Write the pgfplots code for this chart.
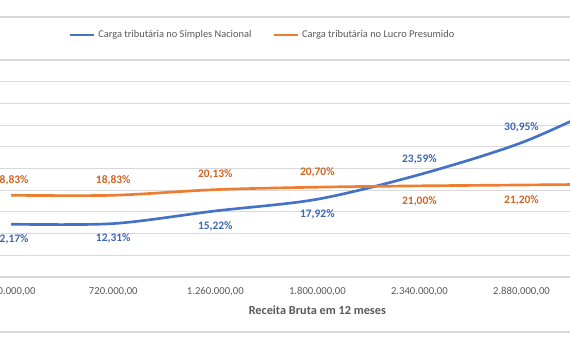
\documentclass[border=0pt]{standalone}
\usepackage{pgfplots}
\pgfplotsset{compat=1.18}
\usepackage{fontspec}
\setmainfont{Carlito}
\definecolor{sBlue}{HTML}{4472C4}
\definecolor{sOrange}{HTML}{ED7D31}
\definecolor{lBlue}{HTML}{3F66B0}
\definecolor{lOrange}{HTML}{CF6420}
\definecolor{txt}{HTML}{595959}
\definecolor{grd}{HTML}{D9D9D9}
\begin{document}
\begin{tikzpicture}
\path[use as bounding box] (0,0) rectangle (427.5pt,262.5pt);
\clip (0,0) rectangle (427.5pt,262.5pt);
\draw[grd, line width=0.8pt] (0,249.75pt) -- (427.5pt,249.75pt);
\draw[grd, line width=0.8pt] (0,13.5pt) -- (427.5pt,13.5pt);
\begin{axis}[
  at={(-29.87pt,54.75pt)}, anchor=south west,
  x=76.54pt, y=3.255pt,
  xmin=-0.5, xmax=7.5, ymin=0, ymax=50,
  axis x line*=bottom, axis y line*=left,
  y axis line style={draw=none},
  x axis line style={draw=grd, line width=0.8pt},
  ytick={0,5,...,50}, yticklabels={},
  ymajorgrids, grid style={grd, line width=0.8pt},
  major tick length=0pt,
  xtick={0,1,2,3,4,5,6},
  xticklabels={{180.000,00},{720.000,00},{1.260.000,00},{1.800.000,00},{2.340.000,00},{2.880.000,00},{3.420.000,00}},
  xticklabel style={font=\fontsize{8}{9.6}\selectfont, text=txt, anchor=center, yshift=-11.25pt},
  xlabel={Receita Bruta em 12 meses},
  xlabel style={at={(0.4375,-0.152)}, anchor=center, font=\fontsize{9.2}{11}\selectfont\bfseries, text=txt},
  legend columns=2,
  legend style={at={(0.3709,1.1152)}, anchor=center, draw=none, fill=none,
    font=\fontsize{7.8}{9.4}\selectfont, text=txt,
    /tikz/every even column/.append style={column sep=14pt},
    inner sep=0pt},
  legend image code/.code={\draw[#1, line width=2pt] (0pt,0pt) -- (18pt,0pt);},
  every node near coord/.append style={font=\fontsize{8.6}{10}\selectfont\bfseries, anchor=center},
]
\addplot[sBlue, line width=2pt, smooth] coordinates {
  (0,12.17) (1,12.31) (2,15.22) (3,17.92) (4,23.59) (5,30.95) (6,41.2) (7,49.0)};
\addlegendentry{Carga tributária no Simples Nacional}
\addplot[sOrange, line width=2pt, smooth] coordinates {
  (0,18.83) (1,18.83) (2,20.13) (3,20.70) (4,21.00) (5,21.20) (6,21.40) (7,21.50)};
\addlegendentry{Carga tributária no Lucro Presumido}
% data labels
\addplot[draw=none, forget plot, nodes near coords, point meta=explicit symbolic,
  every node near coord/.append style={text=lBlue, yshift=-11.25pt}] coordinates {
  (0,12.17) [12,17\%] (1,12.31) [12,31\%] (2,15.22) [15,22\%] (3,17.92) [17,92\%]};
\addplot[draw=none, forget plot, nodes near coords, point meta=explicit symbolic,
  every node near coord/.append style={text=lBlue, yshift=11.25pt}] coordinates {
  (4,23.59) [23,59\%] (5,30.95) [30,95\%]};
\addplot[draw=none, forget plot, nodes near coords, point meta=explicit symbolic,
  every node near coord/.append style={text=lOrange, yshift=11.25pt}] coordinates {
  (0,18.83) [18,83\%] (1,18.83) [18,83\%] (2,20.13) [20,13\%] (3,20.70) [20,70\%]};
\addplot[draw=none, forget plot, nodes near coords, point meta=explicit symbolic,
  every node near coord/.append style={text=lOrange, yshift=-11.25pt}] coordinates {
  (4,21.00) [21,00\%] (5,21.20) [21,20\%]};
\end{axis}
\end{tikzpicture}
\end{document}
